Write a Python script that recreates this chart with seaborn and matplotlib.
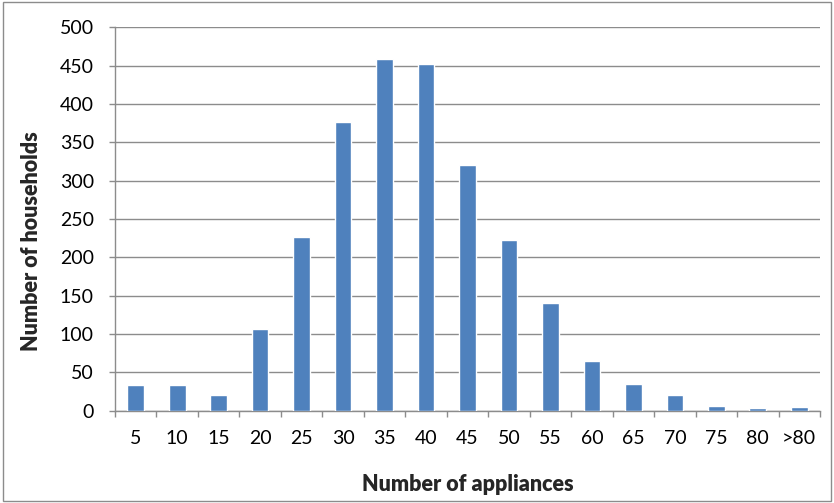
import matplotlib
matplotlib.use("Agg")
import matplotlib.pyplot as plt
from matplotlib.patches import Rectangle
from matplotlib.ticker import FixedLocator, MultipleLocator
import seaborn as sns
import pandas as pd

appliance_bins = ["5", "10", "15", "20", "25", "30", "35", "40", "45",
                  "50", "55", "60", "65", "70", "75", "80", ">80"]
households = [33, 33, 20, 106, 226, 377, 459, 452, 320,
              223, 140, 65, 35, 20, 6, 3.5, 5]

df = pd.DataFrame({"bin": appliance_bins, "count": households})

sns.set_theme(style="white")
plt.rcParams["font.family"] = ["Lato", "DejaVu Sans"]

fig = plt.figure(figsize=(8.34, 5.03), dpi=100)
ax = fig.add_axes([0.1379, 0.1837, 0.9832 - 0.1379, 0.9457 - 0.1837])

sns.barplot(data=df, x="bin", y="count", color="#4F81BD", saturation=1,
            width=0.40, ax=ax, zorder=3)

ax.set_ylim(0, 500)
ax.set_xlim(-0.5, len(appliance_bins) - 0.5)
ax.yaxis.set_major_locator(MultipleLocator(50))
ax.grid(axis="y", color="#8c8c8c", linewidth=1.0, zorder=0)
ax.set_axisbelow(True)

for side in ["top", "right"]:
    ax.spines[side].set_visible(False)
for side in ["left", "bottom"]:
    ax.spines[side].set_color("#8c8c8c")
    ax.spines[side].set_linewidth(1.0)

# category separators below the axis, labels centred under the bars
ax.xaxis.set_minor_locator(FixedLocator([i - 0.5 for i in range(len(appliance_bins) + 1)]))
ax.tick_params(axis="x", which="major", length=0, pad=14, labelsize=14, colors="black")
ax.tick_params(axis="x", which="minor", length=4.3, width=1, color="#8c8c8c", bottom=True)
ax.tick_params(axis="y", which="major", length=4.3, width=1, color="#8c8c8c", left=True,
               pad=11, labelsize=14, colors="black")

ax.set_xlabel("Number of appliances", fontsize=15.5, fontweight="heavy")
ax.set_ylabel("Number of households", fontsize=15.5, fontweight="heavy")
ax.xaxis.set_label_coords(0.5, -0.194)
ax.yaxis.set_label_coords(-0.118, 0.4425)
ax.xaxis.label.set_verticalalignment("center")
ax.yaxis.label.set_verticalalignment("center")

# chart frame
fig.patches.append(Rectangle((0.003, 0.004), 0.994, 0.992, transform=fig.transFigure,
                             fill=False, edgecolor="#8c8c8c", linewidth=1.0))

fig.savefig("out.png", dpi=100)
